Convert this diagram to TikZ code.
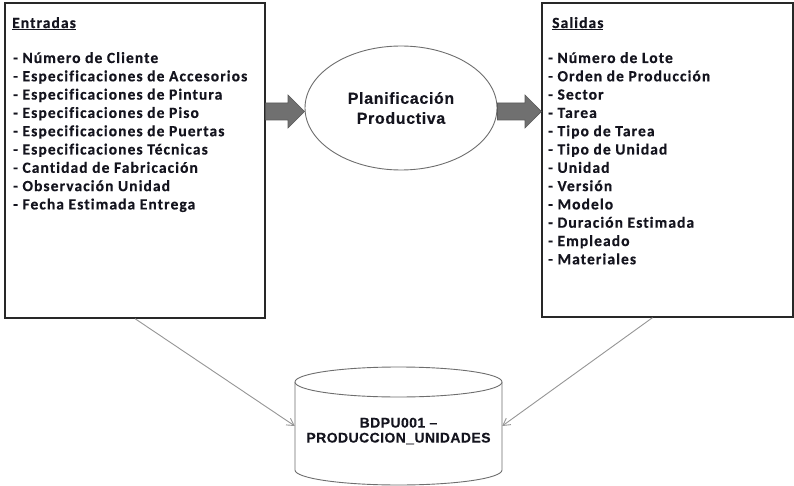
\documentclass[tikz,border=0pt]{standalone}
\usepackage{fontspec}
\usetikzlibrary{arrows.meta,shapes.geometric,calc}
\newfontfamily\listfont{Carlito}[LetterSpace=7.0, Ligatures={NoCommon}, BoldFeatures={FakeBold=0.5}]
\newfontfamily\headfont{Liberation Sans}[LetterSpace=4, BoldFeatures={FakeBold=0.4}]
\newfontfamily\dbfont{Liberation Sans}[LetterSpace=3, BoldFeatures={FakeBold=0.3}]
\definecolor{arrowgray}{RGB}{112,112,112}
\definecolor{arrowedge}{RGB}{90,90,90}
\definecolor{linkgray}{RGB}{150,150,150}
\definecolor{boxline}{RGB}{40,40,40}
\definecolor{shapeline}{RGB}{110,110,110}
\definecolor{textcol}{RGB}{20,20,30}
\tikzset{
  iobox/.style={draw=boxline, line width=1.3pt, fill=white, inner sep=0pt},
  listtext/.style={font=\listfont\bfseries\fontsize{15.5}{18.3}\selectfont, text=textcol, anchor=base west, inner sep=0pt},
  procshape/.style={ellipse, draw=shapeline, line width=0.9pt, fill=white, align=center, text=textcol,
    font=\headfont\bfseries\fontsize{16}{20}\selectfont, inner sep=0pt},
  dbtext/.style={align=center, inner sep=0pt, text=textcol, font=\dbfont\bfseries\fontsize{14}{15}\selectfont},
  blockarrow/.style={fill=arrowgray, draw=arrowedge, line width=0.6pt, line join=miter},
  link/.style={draw=linkgray, line width=0.9pt, -{Straight Barb[length=7pt,width=8pt]}},
  cylline/.style={draw=shapeline, line width=0.9pt, fill=white}
}
\begin{document}
\begin{tikzpicture}[x=1pt,y=-1pt]
\useasboundingbox (0,0) rectangle (794,486);
\fill[white] (0,0) rectangle (794,486);

% boxes
\node[iobox, minimum width=260pt, minimum height=315pt] (in) at (135,160.5) {};
\node[iobox, minimum width=251pt, minimum height=314pt] (out) at (667.5,160) {};

% process
\node[procshape, minimum width=192pt, minimum height=124pt] (plan) at (401,108) {Planificación\\Productiva};

% block arrows
\path[blockarrow] (in.east |- 0,103) -- (288,103) -- (288,95) -- (plan.west |- 0,111.5)
  -- (288,128) -- (288,120) -- (in.east |- 0,120) -- cycle;
\path[blockarrow] (plan.east |- 0,103) -- (525,103) -- (525,95) -- (out.west |- 0,111.5)
  -- (525,128) -- (525,120) -- (plan.east |- 0,120) -- cycle;

% left texts
\node[listtext] (intitle) at (12,28) {\underline{Entradas}};
\foreach \t [count=\i] in {Número de Cliente, Especificaciones de Accesorios, Especificaciones de Pintura,
  Especificaciones de Piso, Especificaciones de Puertas, Especificaciones Técnicas,
  Cantidad de Fabricación, Observación Unidad, Fecha Estimada Entrega}
  \node[listtext] (inl\i) at (13,{63+18.3*(\i-1)}) {- \t};

% right texts
\node[listtext] (outtitle) at (552,28) {\underline{Salidas}};
\foreach \t [count=\i] in {Número de Lote, Orden de Producción, Sector, Tarea, Tipo de Tarea,
  Tipo de Unidad, Unidad, Versión, Modelo, Duración Estimada, Empleado, Materiales}
  \node[listtext] (outl\i) at (548,{63+18.3*(\i-1)}) {- \t};

% database cylinder
\draw[cylline] (295,382) -- (295,470) arc[start angle=180, end angle=0, x radius=103.5, y radius=15] -- (502,382);
\draw[cylline] (398.5,382) ellipse [x radius=103.5, y radius=15];
\node[dbtext, minimum width=207pt, minimum height=118pt] (db) at (398.5,431) {BDPU001 –\\PRODUCCION\_UNIDADES};

% links
\draw[link] (in.south) -- ([yshift=5pt]db.west);
\draw[link] ([xshift=-15pt]out.south) -- ([yshift=5pt]db.east);
\end{tikzpicture}
\end{document}
